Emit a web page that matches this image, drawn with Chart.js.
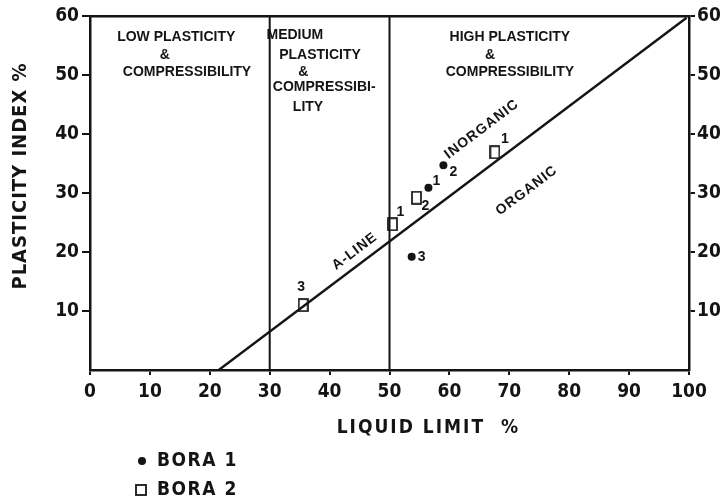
<!DOCTYPE html>
<html>
<head>
<meta charset="utf-8">
<script src="https://cdn.jsdelivr.net/npm/chart.js@4.4.1/dist/chart.umd.min.js"></script>
<style>
  html, body { margin: 0; padding: 0; background: #fff; }
</style>
</head>
<body>
<canvas id="chart" width="723" height="503"></canvas>
<script>
// tick values
const xTicks = [0, 10, 20, 30, 40, 50, 60, 70, 80, 90, 100];
const yTicks = [10, 20, 30, 40, 50, 60];

// BORA 1 samples (filled dots)
const bora1LL = [56.5, 59.0, 53.7];
const bora1PI = [30.9, 34.7, 19.2];
const bora1Names = ['1', '2', '3'];

// BORA 2 samples (open boxes)
const bora2LL = [67.6, 54.5, 35.6, 50.5];
const bora2PI = [36.9, 29.2, 11.0, 24.7];
const bora2Names = ['1', '2', '3', '1'];

// A-line and zone boundaries
const aLineLL = [21.5, 99.6];
const aLinePI = [0, 59.7];
const zoneLL = [30, 50];

const ink = '#141414';
const faceNarrow = "'DejaVu Sans Condensed', 'DejaVu Sans', sans-serif";
const tickFont = { family: faceNarrow, size: 19, weight: 'bold' };

function pts(xs, ys) {
  return xs.map((v, i) => ({ x: v, y: ys[i] }));
}

function boxMark(w, h) {
  const c = document.createElement('canvas');
  c.width = w + 2; c.height = h + 2;
  const g = c.getContext('2d');
  g.strokeStyle = ink; g.lineWidth = 1.7;
  g.strokeRect(1, 1, w, h);
  return c;
}

// text placed in data units
const zoneText = [
  ['LOW PLASTICITY', 14.4, 56.4], ['&', 12.5, 53.4], ['COMPRESSIBILITY', 16.2, 50.5],
  ['MEDIUM', 34.2, 56.8], ['PLASTICITY', 38.4, 53.4], ['&', 35.6, 50.5],
  ['COMPRESSIBI-', 39.1, 48.0], ['LITY', 36.4, 44.6],
  ['HIGH PLASTICITY', 70.1, 56.4], ['&', 66.8, 53.4], ['COMPRESSIBILITY', 70.1, 50.5]
];
const slopeText = [['INORGANIC', 65.4, 40.8], ['ORGANIC', 72.9, 30.4], ['A-LINE', 44.2, 20.1]];
const nameShift1 = [[8, -7], [10, 7], [10, 0]];
const nameShift2 = [[10, -13], [9, 8], [-2, -18], [8, -12]];

const notes = {
  id: 'notes',
  afterDatasetsDraw(chart) {
    const { ctx, scales: { x, y }, chartArea } = chart;
    ctx.save();
    ctx.fillStyle = ink;
    ctx.strokeStyle = ink;
    ctx.textAlign = 'center';
    ctx.textBaseline = 'middle';

    ctx.font = "bold 14px 'Liberation Sans', sans-serif";
    zoneText.forEach(([t, lx, ly]) => ctx.fillText(t, x.getPixelForValue(lx), y.getPixelForValue(ly)));

    const ang = Math.atan2(
      y.getPixelForValue(aLinePI[1]) - y.getPixelForValue(aLinePI[0]),
      x.getPixelForValue(aLineLL[1]) - x.getPixelForValue(aLineLL[0]));
    ctx.letterSpacing = '1px';
    slopeText.forEach(([t, lx, ly]) => {
      ctx.save();
      ctx.translate(x.getPixelForValue(lx), y.getPixelForValue(ly));
      ctx.rotate(ang);
      ctx.fillText(t, 0, 0);
      ctx.restore();
    });
    ctx.letterSpacing = '0px';

    ctx.font = "bold 14px 'Liberation Sans', sans-serif";
    bora1Names.forEach((n, i) => ctx.fillText(n,
      x.getPixelForValue(bora1LL[i]) + nameShift1[i][0], y.getPixelForValue(bora1PI[i]) + nameShift1[i][1]));
    bora2Names.forEach((n, i) => ctx.fillText(n,
      x.getPixelForValue(bora2LL[i]) + nameShift2[i][0], y.getPixelForValue(bora2PI[i]) + nameShift2[i][1]));

    // axis titles
    ctx.font = "bold 19px " + faceNarrow;
    ctx.letterSpacing = '2px';
    ctx.fillText('LIQUID LIMIT  %', x.getPixelForValue(56.5), chartArea.bottom + 58);
    ctx.save();
    ctx.font = "bold 20px " + faceNarrow;
    ctx.letterSpacing = '1px';
    ctx.translate(21, 176);
    ctx.rotate(-Math.PI / 2);
    ctx.fillText('PLASTICITY INDEX %', 0, 0);
    ctx.restore();

    // legend
    ctx.letterSpacing = '1.5px';
    ctx.font = "bold 19px " + faceNarrow;
    ctx.textAlign = 'left';
    ctx.beginPath();
    ctx.arc(142, 461, 4, 0, Math.PI * 2);
    ctx.fill();
    ctx.fillText('BORA 1', 157, 461);
    ctx.lineWidth = 1.8;
    ctx.strokeRect(136, 485, 10, 10);
    ctx.fillText('BORA 2', 157, 490);
    ctx.restore();
  }
};

function fixTicks(list) {
  return s => { s.ticks = list.map(v => ({ value: v })); };
}

const tickGrid = len => ({ display: true, drawOnChartArea: false, drawTicks: true, tickLength: len, color: ink, lineWidth: 2 });
const edge = { display: true, color: ink, width: 2.5 };

new Chart(document.getElementById('chart'), {
  type: 'scatter',
  data: {
    datasets: [
      { label: 'A-LINE', data: pts(aLineLL, aLinePI), showLine: true, borderColor: ink, borderWidth: 2.4, pointRadius: 0 },
      { label: 'LL 30', data: pts([zoneLL[0], zoneLL[0]], [0, 60]), showLine: true, borderColor: ink, borderWidth: 2, pointRadius: 0 },
      { label: 'LL 50', data: pts([zoneLL[1], zoneLL[1]], [0, 60]), showLine: true, borderColor: ink, borderWidth: 2, pointRadius: 0 },
      { label: 'BORA 1', data: pts(bora1LL, bora1PI), pointStyle: 'circle', pointRadius: 4, backgroundColor: ink, borderColor: ink, borderWidth: 0 },
      { label: 'BORA 2', data: pts(bora2LL, bora2PI), pointStyle: boxMark(9, 12), pointRadius: 6 }
    ]
  },
  options: {
    responsive: false,
    animation: false,
    devicePixelRatio: 1,
    layout: { padding: 0 },
    plugins: { legend: { display: false }, tooltip: { enabled: false } },
    scales: {
      x: {
        type: 'linear', position: 'bottom', min: 0, max: 100,
        afterBuildTicks: fixTicks(xTicks),
        afterFit: s => { s.height = 133; },
        ticks: { color: ink, font: tickFont, padding: 6, maxRotation: 0, autoSkip: false },
        grid: tickGrid(5), border: edge
      },
      xTop: {
        type: 'linear', position: 'top', min: 0, max: 100,
        afterFit: s => { s.height = 16; },
        ticks: { display: false }, grid: { display: false }, border: edge
      },
      y: {
        type: 'linear', position: 'left', min: 0, max: 60,
        afterBuildTicks: fixTicks(yTicks),
        afterFit: s => { s.width = 90; },
        ticks: { color: ink, font: tickFont, padding: 3 },
        grid: tickGrid(8), border: edge
      },
      yRight: {
        type: 'linear', position: 'right', min: 0, max: 60,
        afterBuildTicks: fixTicks(yTicks),
        afterFit: s => { s.width = 34; },
        ticks: { color: ink, font: tickFont, padding: 2 },
        grid: tickGrid(6), border: edge
      }
    }
  },
  plugins: [notes]
});
</script>
</body>
</html>
